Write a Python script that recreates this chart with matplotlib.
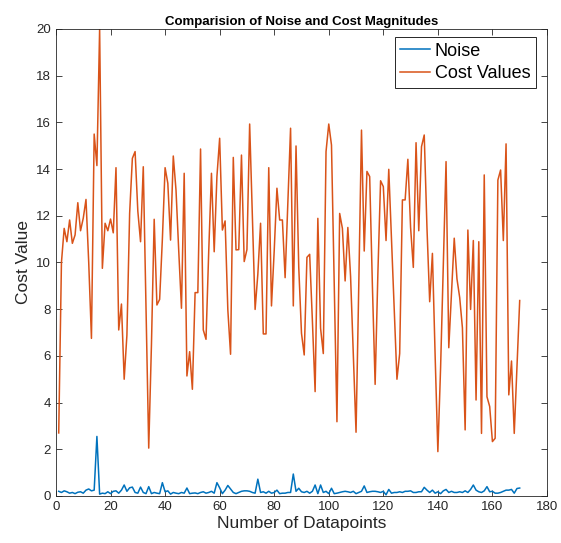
import numpy as np
import matplotlib
matplotlib.use('Agg')
import matplotlib.pyplot as plt

plt.rcParams['font.family'] = ['Liberation Sans', 'DejaVu Sans']

# cost values, datapoints 1..170
cost = [2.7, 10.0, 11.46, 10.89, 11.82, 10.82, 11.18, 12.56, 11.36, 11.9,
        12.7, 10.0, 6.75, 15.5, 14.15, 20.0, 9.75, 11.68, 11.36, 11.86,
        11.27, 14.06, 7.11, 8.22, 5.0, 6.89, 12.1, 14.46, 14.75, 12.2,
        10.89, 14.1, 8.0, 2.05, 6.5, 11.85, 8.18, 8.42, 11.0, 14.06,
        13.39, 10.96, 14.56, 13.1, 10.5, 8.04, 13.82, 5.14, 6.18, 4.57,
        8.71, 8.71, 14.86, 7.11, 6.71, 10.5, 13.82, 10.46, 13.68, 15.32,
        11.39, 11.78, 7.97, 6.07, 14.5, 10.54, 10.55, 14.6, 10.04, 10.55,
        15.93, 12.0, 7.99, 9.5, 11.68, 6.94, 6.94, 14.06, 8.14, 10.5,
        13.18, 11.82, 11.82, 9.35, 12.5, 15.75, 8.14, 14.99, 9.8, 6.97,
        6.04, 10.22, 10.35, 7.5, 4.47, 11.89, 7.18, 6.1, 14.75, 15.93,
        15.03, 9.0, 3.18, 12.1, 11.46, 9.21, 11.5, 9.4, 6.0, 2.73,
        9.0, 15.67, 10.49, 13.9, 13.68, 9.0, 4.78, 9.5, 13.5, 13.25,
        10.94, 13.99, 11.0, 8.04, 5.0, 6.1, 12.68, 12.68, 14.42, 11.5,
        9.79, 15.13, 11.36, 14.96, 15.46, 11.5, 8.32, 10.39, 6.0, 1.9,
        5.5, 10.0, 14.32, 6.35, 8.7, 11.04, 9.3, 8.5, 7.2, 2.83,
        11.39, 7.99, 10.94, 4.11, 10.89, 2.68, 13.75, 4.25, 3.83, 2.33,
        2.47, 13.53, 13.96, 10.94, 15.08, 4.33, 5.78, 2.68, 5.5, 8.37]

noise = [0.2, 0.15, 0.22, 0.18, 0.12, 0.15, 0.1, 0.16, 0.18, 0.12,
         0.25, 0.3, 0.22, 0.25, 2.55, 0.08, 0.12, 0.1, 0.18, 0.1,
         0.2, 0.22, 0.12, 0.25, 0.47, 0.2, 0.35, 0.38, 0.15, 0.12,
         0.38, 0.15, 0.1, 0.4, 0.1, 0.15, 0.12, 0.1, 0.57, 0.18,
         0.22, 0.08, 0.15, 0.12, 0.1, 0.15, 0.12, 0.34, 0.1, 0.12,
         0.13, 0.1, 0.15, 0.18, 0.12, 0.15, 0.2, 0.12, 0.57, 0.35,
         0.1, 0.25, 0.45, 0.3, 0.15, 0.1, 0.15, 0.2, 0.22, 0.22,
         0.2, 0.15, 0.12, 0.72, 0.15, 0.18, 0.12, 0.2, 0.12, 0.15,
         0.25, 0.1, 0.12, 0.12, 0.15, 0.15, 0.94, 0.2, 0.33, 0.18,
         0.15, 0.2, 0.12, 0.2, 0.47, 0.1, 0.47, 0.15, 0.2, 0.1,
         0.33, 0.1, 0.12, 0.15, 0.18, 0.2, 0.18, 0.15, 0.2, 0.1,
         0.15, 0.2, 0.43, 0.15, 0.18, 0.2, 0.2, 0.18, 0.15, 0.2,
         0.05, 0.28, 0.12, 0.15, 0.15, 0.18, 0.15, 0.2, 0.2, 0.22,
         0.15, 0.15, 0.18, 0.18, 0.37, 0.25, 0.15, 0.25, 0.12, 0.18,
         0.1, 0.22, 0.28, 0.15, 0.2, 0.15, 0.15, 0.18, 0.15, 0.22,
         0.15, 0.28, 0.47, 0.25, 0.18, 0.15, 0.22, 0.4, 0.18, 0.2,
         0.12, 0.12, 0.15, 0.2, 0.25, 0.25, 0.28, 0.12, 0.32, 0.34]

x = np.arange(1, len(cost) + 1)

fig = plt.figure(figsize=(5.61, 5.43), dpi=100)
ax = fig.add_axes([0.0998, 0.0866, 0.8752, 0.86])

ax.plot(x, noise, color='#0072BD', linewidth=1.1, label='Noise')
ax.plot(x, cost, color='#D95319', linewidth=1.1, label='Cost Values')

ax.set_xlim(0, 180)
ax.set_ylim(0, 20)
ax.set_xticks(np.arange(0, 181, 20))
ax.set_yticks(np.arange(0, 21, 2))
ax.tick_params(direction='in', top=True, right=True, labelsize=9.5,
               colors='#262626', length=4, width=0.6)
for s in ax.spines.values():
    s.set_color('#262626')
    s.set_linewidth(0.6)

ax.set_title('Comparision of Noise and Cost Magnitudes', fontsize=9.5,
             fontweight='bold', pad=3)
ax.set_xlabel('Number of Datapoints', fontsize=12.5, color='#262626', labelpad=2)
ax.set_ylabel('Cost Value', fontsize=12.5, color='#262626', labelpad=4)

leg = ax.legend(loc='upper right', fontsize=13, fancybox=False,
                edgecolor='#262626', framealpha=1, borderpad=0.3,
                handlelength=1.65, handletextpad=0.25, labelspacing=0.3,
                borderaxespad=0, bbox_to_anchor=(0.977, 0.982))
leg.get_frame().set_linewidth(0.7)

fig.savefig('out.png', dpi=100)
